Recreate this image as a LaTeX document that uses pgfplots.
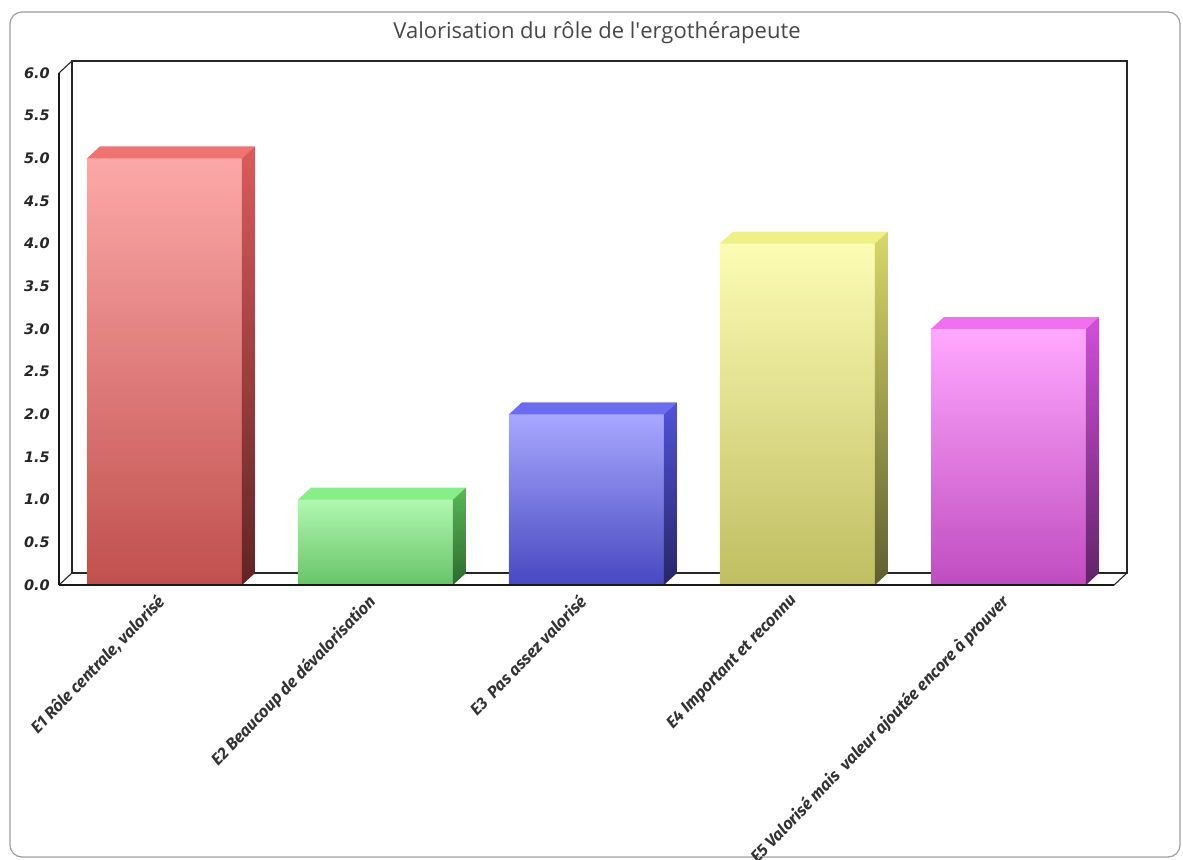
\documentclass[border=0pt]{standalone}
\usepackage{pgfplots}
\pgfplotsset{compat=1.18}
\usepackage{pgfplotstable}
\usepackage{fontspec}
\setmainfont{Open Sans}
\newfontfamily\tickfont{DejaVu Sans}
\newfontfamily\labfont{Fira Sans}

\definecolor{rA}{HTML}{FCA8A8}\definecolor{rB}{HTML}{C0504E}\definecolor{rS1}{HTML}{DE5A5A}\definecolor{rS2}{HTML}{602424}\definecolor{rT}{HTML}{F27272}
\definecolor{gA}{HTML}{B0F8B0}\definecolor{gB}{HTML}{68C468}\definecolor{gS1}{HTML}{58B858}\definecolor{gS2}{HTML}{2E6A2E}\definecolor{gT}{HTML}{88EE88}
\definecolor{bA}{HTML}{A8A8FF}\definecolor{bB}{HTML}{4848C0}\definecolor{bS1}{HTML}{5252D8}\definecolor{bS2}{HTML}{262668}\definecolor{bT}{HTML}{6C6CF0}
\definecolor{yA}{HTML}{FCFCB4}\definecolor{yB}{HTML}{C0BE62}\definecolor{yS1}{HTML}{D8D868}\definecolor{yS2}{HTML}{605E30}\definecolor{yT}{HTML}{F0F088}
\definecolor{mA}{HTML}{FFA8FF}\definecolor{mB}{HTML}{C04CC0}\definecolor{mS1}{HTML}{D050D8}\definecolor{mS2}{HTML}{602468}\definecolor{mT}{HTML}{F070F0}

\pgfdeclareplotmark{none3d}{}

\pgfplotstableread{
x y
0 5
}\barA
\pgfplotstableread{
x y
1 1
}\barB
\pgfplotstableread{
x y
2 2
}\barC
\pgfplotstableread{
x y
3 4
}\barD
\pgfplotstableread{
x y
4 3
}\barE

\pgfplotsset{
  face3d/.style n args={3}{%
    scatter, only marks, mark=none3d,
    visualization depends on=rawy \as \rawy,
    scatter/@pre marker code/.code={%
      \pgfmathsetmacro\H{\rawy*512/6}%
      \pgfmathsetmacro\Hb{12-\H}%
      \path[fill=#3, draw=none] (-77.5bp,0bp) -- (77.5bp,0bp) -- (90.5bp,12bp) -- (-64.5bp,12bp) -- cycle;
      \path[top color=#1, bottom color=#2, draw=none] (77.5bp,0bp) -- (90.5bp,12bp) -- (90.5bp,\Hb bp) -- (77.5bp,-\H bp) -- cycle;
    },
    scatter/@post marker code/.code={},
  },
}

\newcommand{\threedbar}[6]{%
  \addplot[ybar, bar width=155bp, bar shift=0pt, draw=none, top color=#2, bottom color=#3] table[x=x,y=y] {#1};
  \addplot[face3d={#4}{#5}{#6}] table[x=x,y=y] {#1};
}

\begin{document}
\begin{tikzpicture}[x=1bp,y=1bp]
\useasboundingbox (0,0) rectangle (1183,860);
\draw[rounded corners=12bp, color=black!38, line width=1.2bp] (10,3) rectangle (1180,848);
\node[font=\fontsize{22bp}{26bp}\selectfont, text=black!72] at (597,827) {Valorisation du rôle de l\textquotesingle ergothérapeute};
% 3D frame (walls and floor)
\draw[black!85, line width=1.1bp] (72,287) -- (72,799) -- (1127,799) -- (1127,287) -- cycle;
\draw[black!85, line width=1.1bp] (59,275) -- (72,287);
\draw[black!85, line width=1.1bp] (59,787) -- (72,799);
\draw[black!85, line width=1.1bp] (1114,275) -- (1127,287);

\begin{axis}[
  at={(59bp,275bp)}, anchor=south west,
  scale only axis, width=1055bp, height=512bp,
  xmin=-0.5, xmax=4.5, ymin=0, ymax=6,
  axis line style={draw=none},
  clip=false,
  xtick={0,1,2,3,4},
  xticklabels={{E1 Rôle centrale, valorisé},{E2 Beaucoup de dévalorisation},{E3\ \ Pas assez valorisé},{E4 Important et reconnu},{E5 Valorisé mais\ \ valeur ajoutée encore à prouver}},
  ytick={0,0.5,...,6},
  major tick length=0pt,
  tick style={draw=none},
  /pgf/number format/assume math mode=true,
  yticklabel style={/pgf/number format/.cd, fixed, fixed zerofill, precision=1, /tikz/.cd,
    font=\tickfont\bfseries\itshape\fontsize{14.5bp}{16bp}\selectfont, text=black!85, anchor=east, inner sep=0pt, xshift=-9bp},
  xticklabel style={xshift=-9bp, yshift=-5bp, rotate=46, anchor=north east, inner sep=2bp,
    font=\labfont\bfseries\itshape\fontsize{16.5bp}{19bp}\selectfont, text=black!80},
]
\threedbar{\barA}{rA}{rB}{rS1}{rS2}{rT}
\threedbar{\barB}{gA}{gB}{gS1}{gS2}{gT}
\threedbar{\barC}{bA}{bB}{bS1}{bS2}{bT}
\threedbar{\barD}{yA}{yB}{yS1}{yS2}{yT}
\threedbar{\barE}{mA}{mB}{mS1}{mS2}{mT}
\end{axis}
\draw[black!90, line width=1.5bp] (59,275) -- (59,787);
\draw[black!90, line width=1.2bp] (59,275) -- (1114,275);
\end{tikzpicture}
\end{document}
